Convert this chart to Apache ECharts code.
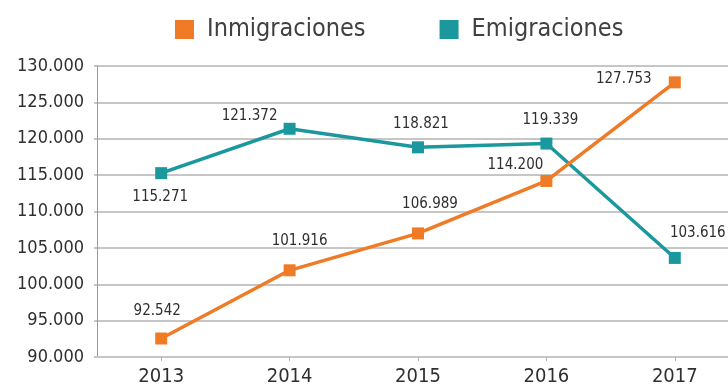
<!DOCTYPE html>
<html>
<head>
<meta charset="utf-8">
<script src="https://cdn.jsdelivr.net/npm/echarts@6/dist/echarts.min.js"></script>
<style>
  html, body { margin: 0; padding: 0; background: #ffffff; }
  #chart { width: 728px; height: 389px; }
</style>
</head>
<body>
<div id="chart"></div>
<script>
// Años
const years = ['2013', '2014', '2015', '2016', '2017'];
// Inmigraciones por año
const inmigraciones = [92542, 101916, 106989, 114200, 127753];
// Emigraciones por año
const emigraciones = [115271, 121372, 118821, 119339, 103616];
// Escala del eje vertical
const yMin = 90000;
const yMax = 130000;
const yStep = 5000;

// Desplazamiento de cada etiqueta respecto a su punto
const inmOffsets = [[-4, -27], [10, -29], [12, -29], [-31, -16], [-51, -3]];
const emiOffsets = [[-1, 24], [-40, -13], [3, -23], [4, -23], [23, -25]];

const FONT = '"DejaVu Sans Condensed", "Liberation Sans Narrow", sans-serif';
const TEXT = '#2f2f2f';
const ORANGE = '#F07B26';
const TEAL = '#1B989E';

// 92542 -> "92.542"
function miles(v) {
  return String(Math.round(v)).replace(/\B(?=(\d{3})+(?!\d))/g, '.');
}

function buildData(values, offsets) {
  return values.map((v, i) => ({
    value: v,
    label: { offset: offsets[i] }
  }));
}

const chart = echarts.init(document.getElementById('chart'), null, { renderer: 'canvas' });

const labelStyle = {
  show: true,
  position: 'inside',
  color: TEXT,
  fontFamily: FONT,
  fontSize: 15,
  formatter: p => miles(p.value)
};

chart.setOption({
  animation: false,
  backgroundColor: '#ffffff',
  textStyle: { fontFamily: FONT },
  legend: {
    left: 170,
    top: 12,
    icon: 'rect',
    itemWidth: 19,
    itemHeight: 19,
    itemGap: 74,
    textStyle: {
      fontFamily: FONT,
      fontSize: 25,
      color: '#404040',
      padding: [0, 0, 0, 8]
    },
    data: ['Inmigraciones', 'Emigraciones']
  },
  // the plot runs past the right edge of the canvas
  grid: {
    left: 97,
    top: 66,
    width: 642,
    bottom: 32,
    containLabel: false,
    outerBoundsMode: 'none'
  },
  xAxis: {
    type: 'category',
    data: years,
    boundaryGap: true,
    axisLine: { show: true, lineStyle: { color: '#c6c6c6', width: 2 } },
    axisTick: { show: true, alignWithLabel: true, length: 4, lineStyle: { color: '#9fb2c0', width: 1 } },
    axisLabel: { color: TEXT, fontFamily: FONT, fontSize: 20, margin: 10 },
    splitLine: { show: false }
  },
  yAxis: {
    type: 'value',
    min: yMin,
    max: yMax,
    interval: yStep,
    axisLine: { show: true, lineStyle: { color: '#9a9a9a', width: 1 } },
    axisTick: { show: true, length: 3, lineStyle: { color: '#c6c6c6', width: 2 } },
    axisLabel: { color: TEXT, fontFamily: FONT, fontSize: 18, margin: 13, formatter: v => miles(v) },
    splitLine: { show: true, lineStyle: { color: '#c6c6c6', width: 2 } }
  },
  series: [
    {
      name: 'Inmigraciones',
      type: 'line',
      data: buildData(inmigraciones, inmOffsets),
      color: ORANGE,
      symbol: 'rect',
      symbolSize: 12,
      lineStyle: { color: ORANGE, width: 3.5 },
      itemStyle: { color: ORANGE },
      label: labelStyle,
      z: 3
    },
    {
      name: 'Emigraciones',
      type: 'line',
      data: buildData(emigraciones, emiOffsets),
      color: TEAL,
      symbol: 'rect',
      symbolSize: 12,
      lineStyle: { color: TEAL, width: 3.5 },
      itemStyle: { color: TEAL },
      label: labelStyle,
      z: 2
    }
  ]
});
</script>
</body>
</html>
